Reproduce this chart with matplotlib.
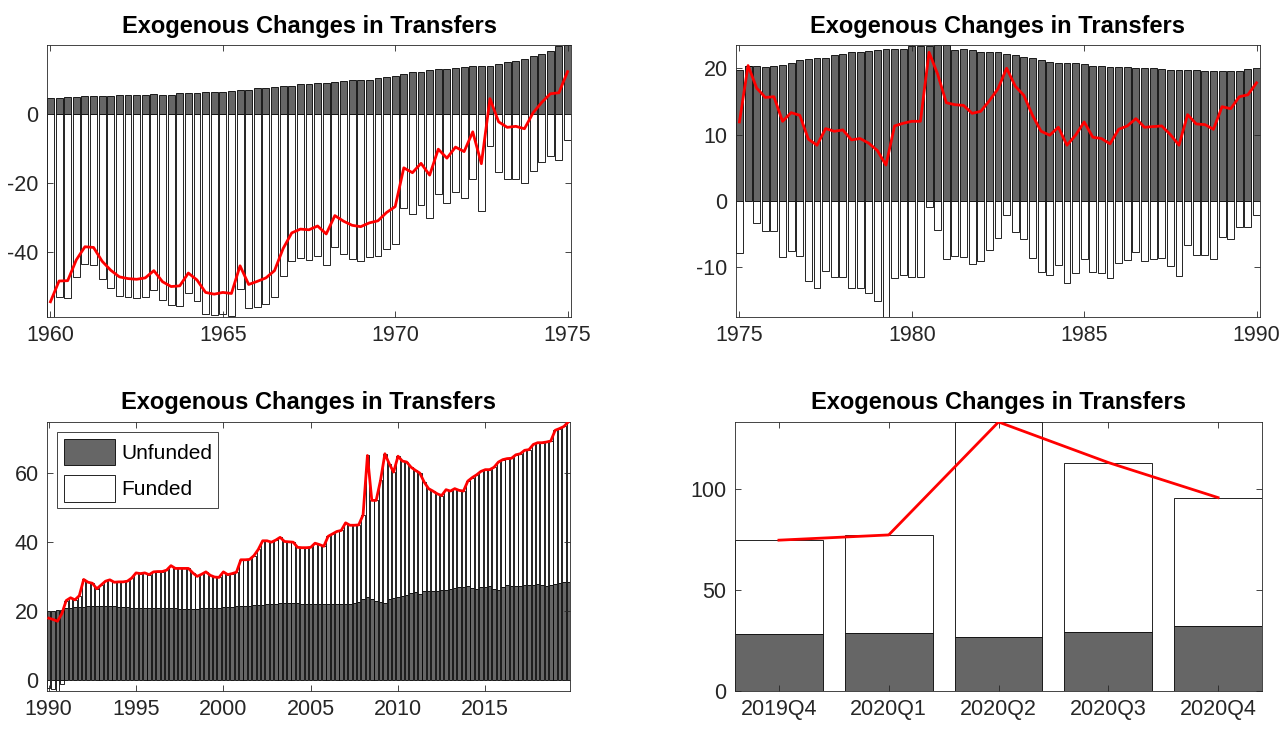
import numpy as np
import matplotlib
matplotlib.use('Agg')
import matplotlib.pyplot as plt

plt.rcParams['font.family'] = ['Liberation Sans', 'DejaVu Sans']
plt.rcParams['axes.unicode_minus'] = False

# quarterly data, 1960Q1 - 1975Q1
unfunded_60 = [4.4, 4.6, 4.9, 4.8, 5.1, 5.1, 5.1, 5.0, 5.4, 5.3, 5.4, 5.4, 5.7, 5.4, 5.4, 5.8,
               5.8, 6.0, 6.1, 6.1, 6.3, 6.4, 6.7, 6.9, 7.4, 7.4, 7.6, 7.9, 8.0, 8.4, 8.6, 8.8,
               8.9, 9.0, 9.4, 9.6, 9.8, 9.8, 10.2, 10.6, 10.8, 11.5, 11.9, 12.0, 12.5, 12.9,
               12.9, 13.1, 13.3, 13.6, 13.6, 13.8, 14.4, 14.9, 15.3, 15.7, 16.7, 17.2, 18.1,
               19.4, 19.8]
funded_60 = [-58.8, -53.0, -53.2, -47.1, -43.6, -43.8, -47.8, -50.3, -52.6, -53.0, -53.3, -52.9,
             -51.1, -54.0, -55.4, -55.6, -51.9, -54.1, -57.8, -58.3, -58.0, -58.4, -50.7, -56.3,
             -55.9, -54.9, -53.0, -46.9, -42.5, -41.8, -42.2, -41.3, -43.7, -38.5, -40.5, -41.9,
             -42.5, -41.4, -41.2, -39.2, -37.7, -27.2, -29.0, -26.4, -30.3, -23.2, -25.8, -22.8,
             -24.3, -18.9, -28.1, -9.5, -16.8, -18.9, -19.0, -20.1, -16.5, -14.0, -12.4, -13.4,
             -7.7]

# 1975Q1 - 1990Q1
unfunded_75 = [19.7, 20.4, 20.4, 20.2, 20.3, 20.5, 20.8, 21.2, 21.4, 21.5, 21.5, 22.0, 22.2, 22.4,
               22.5, 22.6, 22.7, 22.9, 22.9, 22.9, 23.4, 23.4, 23.3, 23.5, 23.5, 22.8, 22.9, 22.7,
               22.5, 22.5, 22.5, 22.2, 22.0, 21.7, 21.5, 21.2, 21.0, 20.8, 20.8, 20.8, 20.7, 20.3,
               20.3, 20.2, 20.2, 20.2, 20.1, 20.1, 20.0, 19.9, 19.8, 19.7, 19.7, 19.8, 19.6, 19.6,
               19.6, 19.6, 19.6, 19.9, 20.0]
funded_75 = [-7.8, 0.0, -3.4, -4.6, -4.6, -8.5, -7.5, -8.3, -12.1, -13.1, -10.6, -11.5, -11.5,
             -13.2, -13.1, -13.9, -15.1, -17.5, -11.6, -11.2, -11.4, -11.4, -0.9, -4.4, -8.7,
             -8.3, -8.5, -9.5, -9.0, -7.4, -5.6, -2.2, -4.7, -5.8, -8.6, -10.7, -11.1, -9.7,
             -12.4, -10.9, -8.8, -10.7, -10.9, -11.6, -9.4, -8.9, -7.7, -9.0, -8.8, -8.6, -9.8,
             -11.3, -6.7, -8.2, -8.1, -8.8, -5.4, -5.7, -3.9, -3.9, -2.2]

# 1990Q1 - 2019Q4
unfunded_90 = [20.1, 20.1, 20.2, 20.4, 20.7, 20.9, 21.0, 21.1, 21.2, 21.3, 21.3, 21.3, 21.3, 21.3,
               21.3, 21.3, 21.2, 21.1, 21.0, 20.9, 20.9, 20.9, 20.9, 20.9, 20.9, 20.9, 20.8, 20.8,
               20.7, 20.7, 20.6, 20.6, 20.6, 20.6, 20.6, 20.7, 20.8, 20.8, 20.8, 20.9, 21.0, 21.0,
               21.1, 21.4, 21.4, 21.5, 21.5, 21.6, 21.7, 21.8, 21.9, 22.0, 22.1, 22.2, 22.2, 22.2,
               22.2, 22.2, 22.1, 22.0, 22.0, 22.0, 21.9, 21.9, 21.9, 22.0, 22.0, 22.0, 22.0, 22.1,
               22.2, 22.5, 23.3, 24.1, 23.5, 22.8, 22.5, 22.2, 23.5, 23.7, 23.9, 24.4, 24.7, 25.1,
               25.4, 24.9, 25.7, 25.7, 25.9, 25.9, 26.1, 26.1, 26.4, 26.7, 26.9, 27.0, 27.1, 26.7,
               26.4, 27.0, 27.0, 27.3, 26.4, 26.1, 26.9, 27.6, 27.3, 27.3, 27.3, 27.6, 27.6, 27.6,
               27.8, 27.6, 27.3, 27.5, 27.8, 28.1, 28.3, 28.5]
funded_90 = [-2.2, -2.6, -3.2, -1.2, 2.3, 2.9, 2.2, 3.3, 7.9, 7.0, 6.7, 5.1, 6.2, 7.3, 7.7, 7.0,
             7.2, 7.3, 7.6, 8.6, 10.1, 9.9, 10.1, 9.6, 10.4, 10.5, 10.6, 11.0, 12.4, 11.6, 11.7,
             11.7, 11.7, 10.4, 9.4, 9.9, 10.5, 9.5, 9.0, 8.8, 10.3, 9.5, 9.7, 9.8, 13.4, 13.3,
             13.4, 14.4, 16.1, 18.5, 18.4, 17.9, 18.4, 19.1, 17.9, 17.8, 17.7, 16.2, 16.2, 16.3,
             16.4, 17.6, 17.3, 16.8, 19.7, 20.3, 21.0, 21.3, 23.5, 22.7, 22.6, 22.4, 24.5, 40.9,
             28.5, 29.2, 35.3, 43.3, 39.1, 36.5, 40.9, 39.0, 38.4, 36.5, 35.3, 35.0, 31.6, 29.7,
             28.8, 28.0, 27.3, 29.0, 28.3, 28.7, 28.0, 27.7, 30.5, 31.9, 33.0, 33.4, 33.9, 33.6,
             35.2, 37.0, 36.9, 36.5, 36.9, 37.9, 38.2, 38.9, 39.1, 40.6, 40.9, 41.1, 41.6, 41.7,
             44.5, 44.7, 45.1, 46.2]

# 2019Q4 - 2020Q4
quarters_20 = ['2019Q4', '2020Q1', '2020Q2', '2020Q3', '2020Q4']
unfunded_20 = [28.5, 28.8, 26.8, 29.3, 32.2]
funded_20 = [46.3, 48.6, 106.6, 84.0, 63.7]

start_years = [1960, 1975, 1990]
year_ticks = [[1960, 1965, 1970, 1975], [1975, 1980, 1985, 1990],
              [1990, 1995, 2000, 2005, 2010, 2015]]
y_ticks = [[-40, -20, 0], [-10, 0, 10, 20], [0, 20, 40, 60], [0, 50, 100]]

DARK = '#666666'
TXT = '#262626'
title = 'Exogenous Changes in Transfers'


def stacked(ax, x, unf, fun, width):
    unf = np.array(unf)
    fun = np.array(fun)
    base = np.where(fun >= 0, unf, 0)
    ax.bar(x, unf, width, color=DARK, edgecolor='k', linewidth=0.6, label='Unfunded')
    ax.bar(x, fun, width, bottom=base, color='white', edgecolor='k', linewidth=0.6,
           label='Funded')
    ax.plot(x, unf + fun, color='red', lw=2, zorder=5)
    lo = min(0, np.min(np.minimum(fun, 0)))
    hi = np.max(unf + np.maximum(fun, 0))
    ax.set_ylim(lo, hi)
    ax.set_xlim(x[0] - width / 2, x[-1] + width / 2)


def style(ax):
    for s in ax.spines.values():
        s.set_color(TXT)
        s.set_linewidth(0.6)
    ax.tick_params(direction='in', length=4, width=0.6, top=True, right=True,
                   labelsize=15.5, colors=TXT, pad=6)
    ax.set_title(title, fontsize=17, fontweight='bold', pad=9)


fig = plt.figure(figsize=(12.82, 7.29), dpi=100)
W, H = 1282, 729
boxes = [(47, 45, 571, 317), (736, 45, 1260, 317), (47, 422, 570, 691), (735, 422, 1262, 691)]
axs = [fig.add_axes([l / W, 1 - b / H, (r - l) / W, (b - t) / H]) for l, t, r, b in boxes]

series = [(unfunded_60, funded_60), (unfunded_75, funded_75), (unfunded_90, funded_90)]
for k in range(3):
    ax = axs[k]
    unf, fun = series[k]
    x = start_years[k] + 0.25 * np.arange(len(unf))
    stacked(ax, x, unf, fun, 0.2)
    ax.set_xticks(year_ticks[k])
    ax.set_yticks(y_ticks[k])
    style(ax)

leg = axs[2].legend(loc='upper left', fontsize=15, fancybox=False, framealpha=1,
                    edgecolor=TXT, handlelength=2.45, handleheight=1.6,
                    borderaxespad=0.5, labelspacing=0.45, handletextpad=0.3,
                    borderpad=0.3)
leg.get_frame().set_linewidth(0.6)

ax = axs[3]
xc = np.arange(1, len(quarters_20) + 1)
stacked(ax, xc, unfunded_20, funded_20, 0.8)
ax.set_ylim(0, max(np.array(unfunded_20) + np.array(funded_20)))
ax.set_xticks(xc)
ax.set_xticklabels(quarters_20)
ax.set_yticks(y_ticks[3])
style(ax)

fig.savefig('out.png', dpi=100)
